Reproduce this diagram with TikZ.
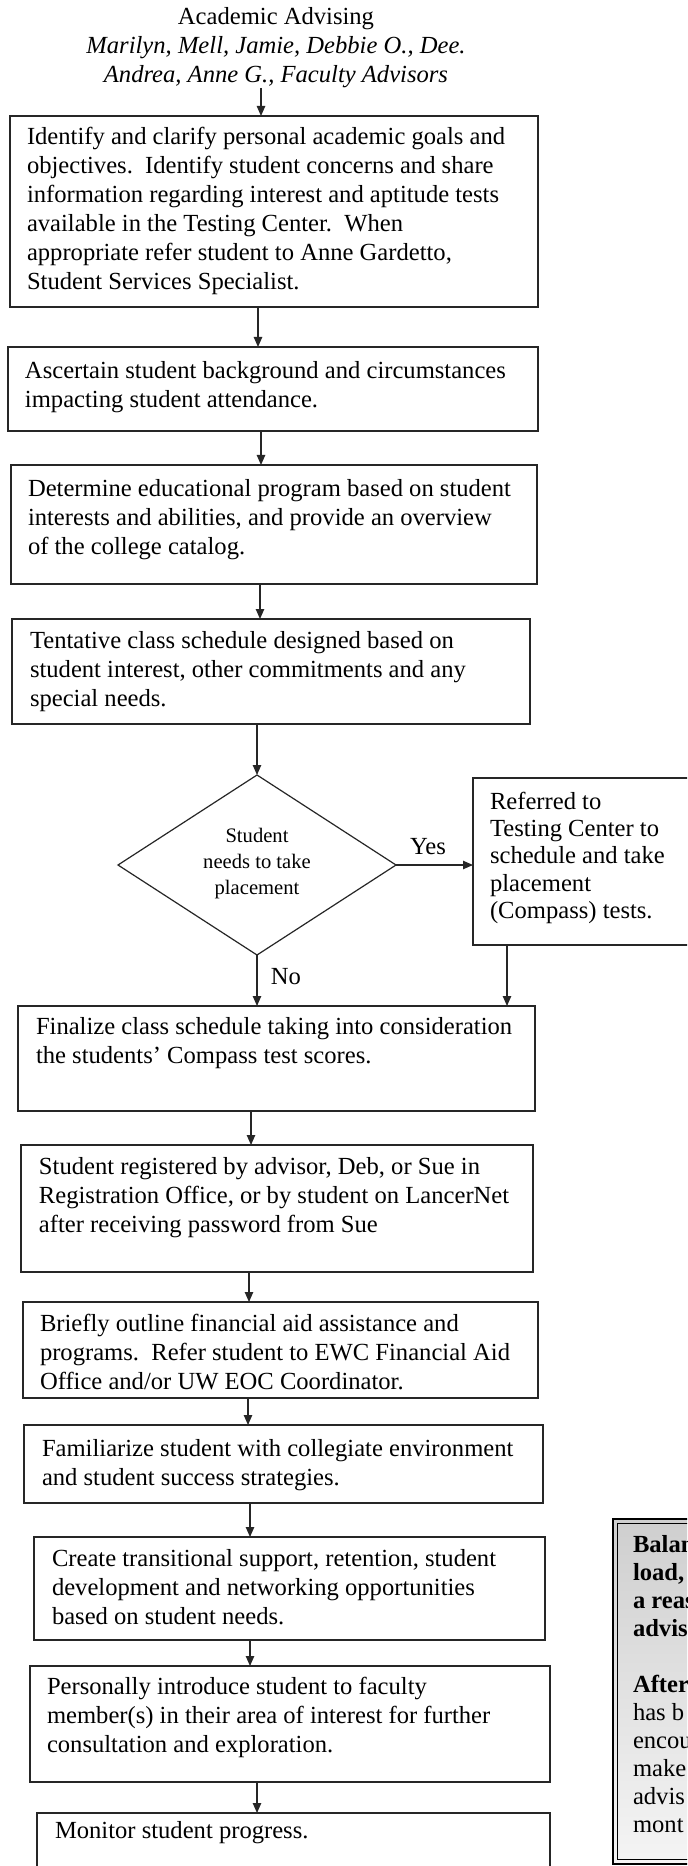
\documentclass[tikz,border=0pt]{standalone}
\usepackage{fontspec}
\setmainfont{Liberation Serif}
\usetikzlibrary{arrows.meta,shapes.geometric,fit}

% body text of the flow chart
\newcommand{\flowfont}{\fontsize{12.3}{14.5}\selectfont}
\newcommand{\reffont}{\fontsize{12.3}{13.65}\selectfont}
\newcommand{\decfont}{\fontsize{10.3}{13}\selectfont}
\newcommand{\sidefont}{\fontsize{12.3}{14}\selectfont}
\newcommand{\dsp}{\hspace{0.5em}}

\begin{document}
\begin{tikzpicture}[x=0.5pt,y=-0.5pt,
  every node/.style={inner sep=0pt,outer sep=0pt},
  stepbox/.style={draw=black!85,line width=0.7pt,rectangle},
  body/.style={anchor=north west,align=left,font=\flowfont},
  arr/.style={draw=black!85,line width=0.6pt,-{Triangle[length=5pt,width=4.2pt]}}]

\useasboundingbox (0,0) rectangle (687,1866);
\clip (0,0) rectangle (687,1866);
\fill[white] (0,0) rectangle (687,1866);

% heading
\node[anchor=north,align=center,font=\flowfont] (title) at (276,4)
  {\strut Academic Advising\\
   \textit{Marilyn, Mell, Jamie, Debbie O., Dee.}\\
   \textit{Andrea, Anne G., Faculty Advisors}};

% process boxes
\node[stepbox,fit={(10,116) (538,307)}]  (b1) {};
\node[stepbox,fit={(8,347) (538,431)}]   (b2) {};
\node[stepbox,fit={(11,465) (537,584)}]  (b3) {};
\node[stepbox,fit={(12,619) (530,724)}]  (b4) {};
\node[draw=black!85,line width=0.6pt,diamond,minimum width=139pt,minimum height=90pt] (dec) at (257,865) {};
\node[stepbox,fit={(473,778) (720,945)}] (ref) {};
\node[stepbox,fit={(18,1006) (535,1111)}]  (b5) {};
\node[stepbox,fit={(21,1145) (533,1272)}]  (b6) {};
\node[stepbox,fit={(23,1302) (538,1398)}]  (b7) {};
\node[stepbox,fit={(24,1425) (543,1503)}]  (b8) {};
\node[stepbox,fit={(34,1537) (545,1640)}]  (b9) {};
\node[stepbox,fit={(30,1666) (550,1782)}]  (b10) {};
\node[stepbox,fit={(37,1813) (550,1900)}]  (b11) {};

% side note with a double frame
\node[draw=black,line width=1.3pt,top color=gray!38,bottom color=gray!8,fit={(613,1519) (730,1864)}] (side) {};
\draw[line width=0.5pt] ([xshift=2.4pt,yshift=-2.4pt]side.north west) rectangle ([xshift=-2.4pt,yshift=2.4pt]side.south east);

% texts
\node[body] (b1t) at (27,124) {\strut Identify and clarify personal academic goals and\\
  objectives.\dsp Identify student concerns and share\\
  information regarding interest and aptitude tests\\
  available in the Testing Center.\dsp When\\
  appropriate refer student to Anne Gardetto,\\
  Student Services Specialist.};
\node[body] (b2t) at (25,358) {\strut Ascertain student background and circumstances\\
  impacting student attendance.};
\node[body] (b3t) at (28,476) {\strut Determine educational program based on student\\
  interests and abilities, and provide an overview\\
  of the college catalog.};
\node[body] (b4t) at (30,628) {\strut Tentative class schedule designed based on\\
  student interest, other commitments and any\\
  special needs.};
\node[align=center,font=\decfont] (dect) at (257,864) {Student\\needs to take\\placement};
\node[body,font=\reffont] (reft) at (490,790) {\strut Referred to\\
  Testing Center to\\
  schedule and take\\
  placement\\
  (Compass) tests.};
\node[body] (b5t) at (36,1014) {\strut Finalize class schedule taking into consideration\\
  the students' Compass test scores.};
\node[body] (b6t) at (39,1154) {\strut Student registered by advisor, Deb, or Sue in\\
  Registration Office, or by student on LancerNet\\
  after receiving password from Sue};
\node[body] (b7t) at (40,1311) {\strut Briefly outline financial aid assistance and\\
  programs.\dsp Refer student to EWC Financial Aid\\
  Office and/or UW EOC Coordinator.};
\node[body] (b8t) at (42,1436) {\strut Familiarize student with collegiate environment\\
  and student success strategies.};
\node[body] (b9t) at (52,1546) {\strut Create transitional support, retention, student\\
  development and networking opportunities\\
  based on student needs.};
\node[body] (b10t) at (47,1674) {\strut Personally introduce student to faculty\\
  member(s) in their area of interest for further\\
  consultation and exploration.};
\node[body] (b11t) at (55,1818) {\strut Monitor student progress.};
\node[body,font=\sidefont] (sidet) at (633,1533) {\strut\textbf{Balan}\\
  \textbf{load,}\\
  \textbf{a reas}\\
  \textbf{advis}\\
  \strut\\
  \textbf{After}\\
  has b\\
  encou\\
  make\\
  advis\\
  mont};

% branch labels
\node[font=\flowfont] (yes) at (428,847) {Yes};
\node[font=\flowfont] (no) at (286,977) {No};

% arrow columns
\coordinate (t0) at (261,88);
\coordinate (c1) at (258,0);
\coordinate (c2) at (261,0);
\coordinate (c3) at (260,0);
\coordinate (cr) at (507,0);
\coordinate (c5) at (251,0);
\coordinate (c6) at (249,0);
\coordinate (c7) at (248,0);
\coordinate (c8) at (250,0);
\coordinate (c9) at (250,0);
\coordinate (c10) at (257,0);

% connectors
\draw[arr] (t0) -- (t0 |- b1.north);
\draw[arr] (b1.south -| c1) -- (b2.north -| c1);
\draw[arr] (b2.south -| c2) -- (b3.north -| c2);
\draw[arr] (b3.south -| c3) -- (b4.north -| c3);
\draw[arr] (b4.south -| dec.north) -- (dec.north);
\draw[arr] (dec.east) -- (dec.east -| ref.west);
\draw[arr] (dec.south) -- (dec.south |- b5.north);
\draw[arr] (ref.south -| cr) -- (b5.north -| cr);
\draw[arr] (b5.south -| c5) -- (b6.north -| c5);
\draw[arr] (b6.south -| c6) -- (b7.north -| c6);
\draw[arr] (b7.south -| c7) -- (b8.north -| c7);
\draw[arr] (b8.south -| c8) -- (b9.north -| c8);
\draw[arr] (b9.south -| c9) -- (b10.north -| c9);
\draw[arr] (b10.south -| c10) -- (b11.north -| c10);
\end{tikzpicture}
\end{document}
